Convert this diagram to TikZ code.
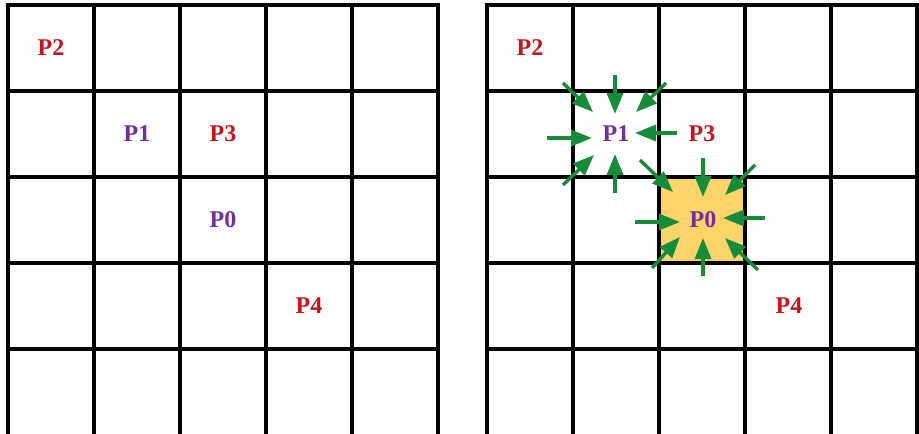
\documentclass[tikz,border=0pt]{standalone}
\usepackage{fontspec}
\setmainfont{Liberation Serif}
\usetikzlibrary{arrows.meta,calc}
\definecolor{pred}{RGB}{196,20,28}
\definecolor{ppurple}{RGB}{112,48,160}
\definecolor{pgreen}{RGB}{22,140,58}
\definecolor{pyellow}{RGB}{252,212,106}
\tikzset{
  gridline/.style={line width=3.8pt, black, line cap=rect},
  lbl/.style={font=\fontsize{24}{28}\selectfont\bfseries, inner sep=0pt},
  redlbl/.style={lbl, text=pred},
  purplbl/.style={lbl, text=ppurple},
  garrow/.style={pgreen, line width=3.4pt, -{Triangle[length=21pt,width=16pt]}}
}
\begin{document}
\begin{tikzpicture}[x=1pt,y=-1pt]
\useasboundingbox (0,0) rectangle (919,434);
\clip (0,0) rectangle (919,434);
% highlighted cell
\fill[pyellow] (659,177) rectangle (745,263);
% grids
\foreach \gx in {8,487}{
  \foreach \i in {0,...,5}{
    \draw[gridline] (\gx+86*\i,5) -- (\gx+86*\i,440);
  }
  \foreach \i in {0,...,4}{
    \draw[gridline] (\gx,5+86*\i) -- (\gx+430,5+86*\i);
  }
}
% left labels
\node[redlbl]  (lP2) at (51,48)  {P2};
\node[purplbl] (lP1) at (137,134) {P1};
\node[redlbl]  (lP3) at (223,134) {P3};
\node[purplbl] (lP0) at (223,220) {P0};
\node[redlbl]  (lP4) at (309,306) {P4};
% right labels
\node[redlbl]  (rP2) at (530,48)  {P2};
\node[purplbl] (rP1) at (616,134) {P1};
\node[redlbl]  (rP3) at (702,134) {P3};
\node[purplbl] (rP0) at (703,220) {P0};
\node[redlbl]  (rP4) at (789,306) {P4};
% arrows toward P1
\foreach \ax/\ay/\bx/\by in {-1/-59/-1/-20, -53/-51/-23/-22, 50/-51/20/-22, -69/4/-24/4, 61/-1/19/-1, -53/51/-22/21, -1/59/-1/20}{
  \draw[garrow] ($(rP1)+(\ax,\ay)$) -- ($(rP1)+(\bx,\by)$);
}
% arrows toward P0
\foreach \ax/\ay/\bx/\by in {0/-62/0/-23, -63/-60/-30/-28, 52/-55/22/-25, 62/-2/20/-2, -68/2/-23/2, -51/48/-23/17, 0/56/0/18, 55/50/22/18}{
  \draw[garrow] ($(rP0)+(\ax,\ay)$) -- ($(rP0)+(\bx,\by)$);
}
\end{tikzpicture}
\end{document}
